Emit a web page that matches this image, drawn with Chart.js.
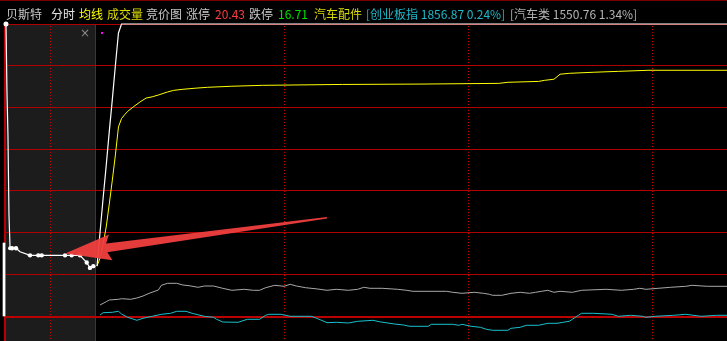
<!DOCTYPE html>
<html><head><meta charset="utf-8">
<script src="https://cdn.jsdelivr.net/npm/chart.js@4.4.0/dist/chart.umd.min.js"></script>
<style>
html,body{margin:0;padding:0;background:#000;overflow:hidden;}
#wrap{position:relative;width:727px;height:341px;background:#000;}
canvas{position:absolute;left:0;top:0;}
.t{position:absolute;top:8px;font-family:"Noto Sans CJK SC","Noto Sans",sans-serif;font-size:12px;line-height:12px;white-space:nowrap;}
#close{position:absolute;left:80px;top:27px;font:12px/12px "DejaVu Sans",sans-serif;color:#8c8c8c;}
#mark{position:absolute;left:101px;top:32px;width:2px;height:2px;background:#ff00ff;}
</style></head><body>
<div id="wrap">
<canvas id="c" width="727" height="341"></canvas>
<span class="t" style="left:6px;color:#c8c8c8" id="name"></span>
<span class="t" style="left:51px;color:#e6e6e6">分时</span>
<span class="t" style="left:79px;color:#ffff00">均线</span>
<span class="t" style="left:107px;color:#dcdc00">成交量</span>
<span class="t" style="left:146px;color:#c8c8c8">竞价图</span>
<span class="t" style="left:186px;color:#c8c8c8">涨停</span>
<span class="t" style="left:215px;color:#ff3c3c" id="up"></span>
<span class="t" style="left:249px;color:#c8c8c8">跌停</span>
<span class="t" style="left:278px;color:#00e000" id="down"></span>
<span class="t" style="left:314px;color:#dcdc00" id="sector"></span>
<span class="t" style="left:366px;color:#1fb8c8" id="idx1"></span>
<span class="t" style="left:510px;color:#b4b4b4" id="idx2"></span>
<span id="close">×</span>
<div id="mark"></div>
</div>
<script>
// ---- data ----
const stockName = '贝斯特';
const sectorName = '汽车配件';
const limitUp = 20.43;
const limitDown = 16.71;
const prevClose = 18.57;
const index1Name = '创业板指', index1Last = 1856.87, index1Pct = 0.24;
const index2Name = '汽车类', index2Last = 1550.76, index2Pct = 1.34;

// call auction 9:15-9:25 (minutes after 9:15)
const auctionMinutes = [0.11,0.22,0.33,0.44,0.56,0.78,1.22,1.67,2.78,3.70,4.08,6.67,7.41,8.33,9.08,9.44,9.81];
const auctionPrices  = [20.43,20.05,19.81,19.37,19.18,19.18,19.18,19.16,19.14,19.14,19.14,19.14,19.14,19.14,19.10,19.07,19.08];
const auctionVolMinutes = [0];
const auctionVolumes = [730];

// continuous session (minute index)
const priceMinutes = [0,1,2,3,4,5,6,7,8,206];
const priceValues  = [19.08,19.27,19.46,19.64,19.83,20.01,20.20,20.38,20.43,20.43];
const avgMinutes = [0,1,2,3,4,5,6,7,8,9,10,12,14,16,18,20,23,25,28,32,36,44,54,80,105,131,134,144,146,149,151,154,162,170,180,206];
const avgValues  = [19.08,19.125,19.203,19.298,19.426,19.560,19.700,19.856,19.903,19.924,19.943,19.970,19.995,20.017,20.024,20.034,20.051,20.060,20.066,20.072,20.077,20.083,20.088,20.093,20.095,20.099,20.105,20.110,20.116,20.122,20.150,20.155,20.161,20.166,20.172,20.172];

const index1Minutes = [1,3,4,7,8,11,13,15,17,20,21,23,26,28,30,33,35,38,41,44,48,51,53,55,58,61,63,65,68,72,75,78,82,85,87,89,93,98,101,103,114,116,119,123,126,128,129,132,135,138,141,143,145,147,149,151,155,158,166,171,175,177,179,183,187,192,194,199,206];
const index1Values  = [1851.26,1852.25,1852.76,1852.97,1853.15,1852.97,1853.36,1853.96,1854.77,1855.76,1857.17,1857.77,1857.77,1857.26,1857.05,1856.57,1856.96,1856.96,1856.27,1855.67,1855.97,1855.67,1855.67,1856.45,1857.17,1856.87,1857.47,1856.96,1856.45,1856.06,1855.67,1855.97,1855.67,1855.97,1856.57,1856.27,1856.27,1855.97,1855.67,1855.37,1855.37,1855.07,1854.77,1855.07,1854.77,1854.47,1854.17,1854.17,1854.77,1855.07,1854.77,1855.07,1855.37,1855.67,1855.07,1855.37,1855.07,1855.67,1855.97,1855.67,1855.97,1856.27,1855.97,1856.27,1856.57,1856.87,1857.17,1856.87,1856.87];
const index2Minutes = [1,2,5,7,8,10,12,13,15,18,21,24,26,29,31,35,38,39,41,46,49,53,55,56,60,63,70,73,75,78,82,85,90,92,97,100,102,108,109,116,118,119,122,125,127,129,134,135,138,140,144,147,150,152,154,155,157,158,162,168,170,174,178,179,182,188,192,197,202,206];
const index2Values  = [1550.91,1552.06,1552.26,1552.76,1551.41,1549.76,1548.76,1548.26,1549.26,1550.26,1551.26,1551.76,1552.76,1552.76,1551.76,1550.26,1549.76,1548.76,1547.41,1547.26,1548.76,1548.76,1550.76,1551.26,1551.26,1550.26,1550.26,1548.41,1547.06,1547.26,1546.91,1547.76,1548.26,1547.56,1546.41,1545.91,1545.26,1545.26,1546.26,1546.26,1545.76,1546.26,1545.26,1544.76,1543.76,1543.26,1543.26,1544.26,1544.76,1545.76,1545.76,1546.76,1546.76,1547.26,1547.76,1548.76,1550.76,1551.76,1551.76,1551.26,1550.26,1550.76,1550.26,1549.76,1550.26,1550.76,1551.26,1550.26,1550.76,1550.76];

// grid: price lines every 1.25% below limit-up; hour marks (minute index)
const gridStep = (limitUp - prevClose) / 8;
const gridPrices = [0,1,2,3,4,5,6,7].map(k => limitUp - k * gridStep);
const hourMarks = [61,121,181];
const auctionMid = 5, auctionEnd = 10;
// user-drawn arrow annotation (minute index, price)
const arrowTail = {x: 75, y: 19.35};
const arrowTip  = {x: -10.4, y: 19.15};

// header texts
document.getElementById('name').textContent = stockName;
document.getElementById('up').textContent = limitUp.toFixed(2);
document.getElementById('down').textContent = limitDown.toFixed(2);
document.getElementById('sector').textContent = sectorName;
document.getElementById('idx1').textContent = '[' + index1Name + ' ' + index1Last.toFixed(2) + ' ' + index1Pct.toFixed(2) + '%]';
document.getElementById('idx2').textContent = '[' + index2Name + ' ' + index2Last.toFixed(2) + ' ' + index2Pct.toFixed(2) + '%]';

const zip = (xs, ys) => xs.map((x, i) => ({x, y: ys[i]}));

const framePlugin = {
  id: 'frame',
  beforeDatasetsDraw(chart) {
    const {ctx, chartArea: a, scales} = chart;
    const xa = scales.xa, xm = scales.x, y = scales.y;
    ctx.save();
    ctx.fillStyle = '#7a0000';
    ctx.fillRect(0, 0, chart.width, 1);
    const l = Math.round(xa.getPixelForValue(0));
    const r = Math.round(xa.getPixelForValue(auctionEnd));
    ctx.fillStyle = '#1c1c1c';
    ctx.fillRect(l, a.top, r - l, a.bottom - a.top);
    gridPrices.forEach((v, i) => {
      const last = i === gridPrices.length - 1;
      const raw = y.getPixelForValue(v);
      const py = last ? Math.round(raw) : Math.floor(raw);
      ctx.fillStyle = last ? '#bb0000' : '#b00000';
      ctx.fillRect(l - 1, py, a.right - l + 1, last ? 2 : 1);
    });
    ctx.fillStyle = '#bb0000';
    ctx.fillRect(l - 1, a.top, 2, a.bottom - a.top);
    ctx.fillRect(r, a.top, 1, a.bottom - a.top);
    ctx.fillStyle = '#d00000';
    const dots = [Math.round(xa.getPixelForValue(auctionMid))].concat(hourMarks.map(m => Math.round(xm.getPixelForValue(m))));
    dots.forEach(px => {
      for (let yy = a.top + 2; yy < a.bottom; yy += 3) ctx.fillRect(px, yy, 1, 1);
    });
    ctx.restore();
  },
  afterDatasetsDraw(chart) {
    const {ctx, scales} = chart;
    const xm = scales.x, y = scales.y;
    const t = {x: xm.getPixelForValue(arrowTail.x), y: y.getPixelForValue(arrowTail.y)};
    const h = {x: xm.getPixelForValue(arrowTip.x), y: y.getPixelForValue(arrowTip.y)};
    const dx = h.x - t.x, dy = h.y - t.y, len = Math.hypot(dx, dy);
    const ux = dx / len, uy = dy / len, nx = -uy, ny = ux;
    const L = 42, hw = 13, sw = 4.5, tw = 0.8;
    const bx = h.x - ux * L, by = h.y - uy * L;
    ctx.save();
    ctx.fillStyle = 'rgba(240,62,62,0.95)';
    ctx.beginPath();
    ctx.moveTo(t.x + nx * tw, t.y + ny * tw);
    ctx.lineTo(bx + nx * sw, by + ny * sw);
    ctx.lineTo(bx + nx * hw - ux * 4, by + ny * hw - uy * 4);
    ctx.lineTo(h.x, h.y);
    ctx.lineTo(bx - nx * hw - ux * 4, by - ny * hw - uy * 4);
    ctx.lineTo(bx - nx * sw, by - ny * sw);
    ctx.lineTo(t.x - nx * tw, t.y - ny * tw);
    ctx.closePath();
    ctx.fill();
    ctx.restore();
  }
};

const pxPerMinMain = (652 - 284) / 120;
const mainStartPx = 97;
const auctionPxPerMin = 9;
const auctionStartPx = 5;
const W = 727, H = 341, TOP = 24;
const yMin = limitUp - (H - TOP) / 41.7 * gridStep;

new Chart(document.getElementById('c'), {
  type: 'line',
  data: {
    datasets: [
      {type: 'bar', data: zip(auctionVolMinutes, auctionVolumes), xAxisID: 'xa', yAxisID: 'yv',
       backgroundColor: '#ffffff', barThickness: 2, order: 6},
      {data: zip(index1Minutes, index1Values), xAxisID: 'x', yAxisID: 'yg', borderColor: '#a8a8a8',
       borderWidth: 1, pointRadius: 0, tension: 0, clip: false, order: 5},
      {data: zip(index2Minutes, index2Values), xAxisID: 'x', yAxisID: 'yc', borderColor: '#18c0cc',
       borderWidth: 1, pointRadius: 0, tension: 0, clip: false, order: 4},
      {data: zip(avgMinutes, avgValues), xAxisID: 'x', yAxisID: 'y', borderColor: '#ffff00',
       borderWidth: 1, pointRadius: 0, tension: 0, clip: false, order: 3},
      {data: zip(priceMinutes, priceValues), xAxisID: 'x', yAxisID: 'y', borderColor: '#ffffff',
       borderWidth: 1.2, pointRadius: 0, tension: 0, clip: false, order: 2},
      {data: zip(auctionMinutes, auctionPrices), xAxisID: 'xa', yAxisID: 'y', borderColor: '#ffffff',
       borderWidth: 1.2, pointBackgroundColor: '#ffffff', pointBorderWidth: 0,
       pointRadius: [2.5,0,0,0,2,2.2,2.2,0,2.2,2.2,2.2,2.2,2.2,2.2,2.2,2.2,2.2], tension: 0, clip: false, order: 1}
    ]
  },
  options: {
    responsive: false,
    animation: false,
    events: [],
    layout: {autoPadding: false, padding: {top: TOP, left: 0, right: 0, bottom: 0}},
    plugins: {legend: {display: false}, tooltip: {enabled: false}},
    scales: {
      x:  {type: 'linear', display: false, offset: false, min: -mainStartPx / pxPerMinMain, max: (W - mainStartPx) / pxPerMinMain},
      xa: {type: 'linear', display: false, offset: false, min: -auctionStartPx / auctionPxPerMin, max: (W - auctionStartPx) / auctionPxPerMin},
      y:  {type: 'linear', display: false, min: yMin, max: limitUp},
      yg: {type: 'linear', display: false, min: 1840.46, max: 1935.56},
      yc: {type: 'linear', display: false, min: 1537.91, max: 1696.41},
      yv: {type: 'linear', display: false, min: -250, max: 2920}
    }
  },
  plugins: [framePlugin]
});
</script>
</body></html>
